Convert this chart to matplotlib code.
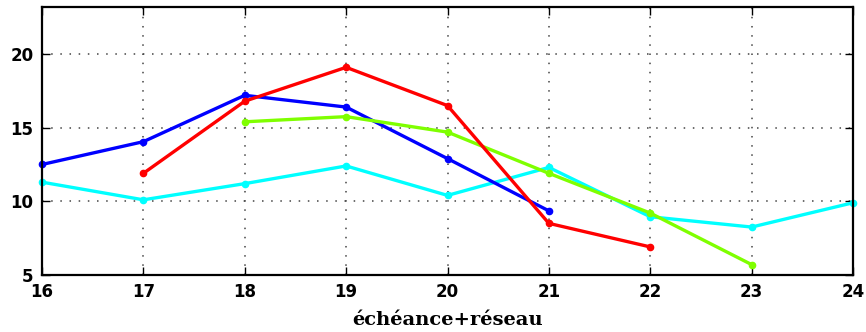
import numpy as np
import matplotlib
matplotlib.use("Agg")
import matplotlib.pyplot as plt

# values
x_cyan = [16, 17, 18, 19, 20, 21, 22, 23, 24]
y_cyan = [11.3, 10.1, 11.2, 12.4, 10.4, 12.3, 8.95, 8.25, 9.9]

x_blue = [16, 17, 18, 19, 20, 21]
y_blue = [12.5, 14.05, 17.2, 16.4, 12.9, 9.35]

x_green = [18, 19, 20, 21, 22, 23]
y_green = [15.4, 15.75, 14.7, 11.9, 9.2, 5.7]

x_red = [17, 18, 19, 20, 21, 22]
y_red = [11.9, 16.8, 19.1, 16.5, 8.5, 6.9]

x_ticks = [16, 17, 18, 19, 20, 21, 22, 23, 24]
y_ticks = [5, 10, 15, 20]

fig = plt.figure(figsize=(8.66, 3.32), dpi=100)
ax = fig.add_axes([0.0485, 0.172, 0.9365, 0.807])

series = [
    (x_cyan, y_cyan, '#00ffff'),
    (x_blue, y_blue, '#0000ff'),
    (x_green, y_green, '#7fff00'),
    (x_red, y_red, '#ff0000'),
]
for xs, ys, c in series:
    ax.plot(xs, ys, color=c, linewidth=2.4, marker='o', markersize=4.5,
            markeredgecolor=c, clip_on=False)

ax.set_xlim(16, 24)
ax.set_ylim(5, 23.2)
ax.set_xticks(x_ticks)
ax.set_yticks(y_ticks)
ax.set_axisbelow(True)
ax.grid(True, color='#444444', linestyle=(0, (1, 5)), linewidth=1.1)

ax.tick_params(direction='in', length=6, width=1, top=True, right=True,
               labelsize=12, pad=6)
for lab in ax.get_xticklabels() + ax.get_yticklabels():
    lab.set_fontweight('bold')
for sp in ax.spines.values():
    sp.set_linewidth(1.6)

ax.set_xlabel("échéance+réseau", family='DejaVu Serif', fontweight='bold',
              fontsize=14, labelpad=7)

fig.savefig("out.png", dpi=100)
